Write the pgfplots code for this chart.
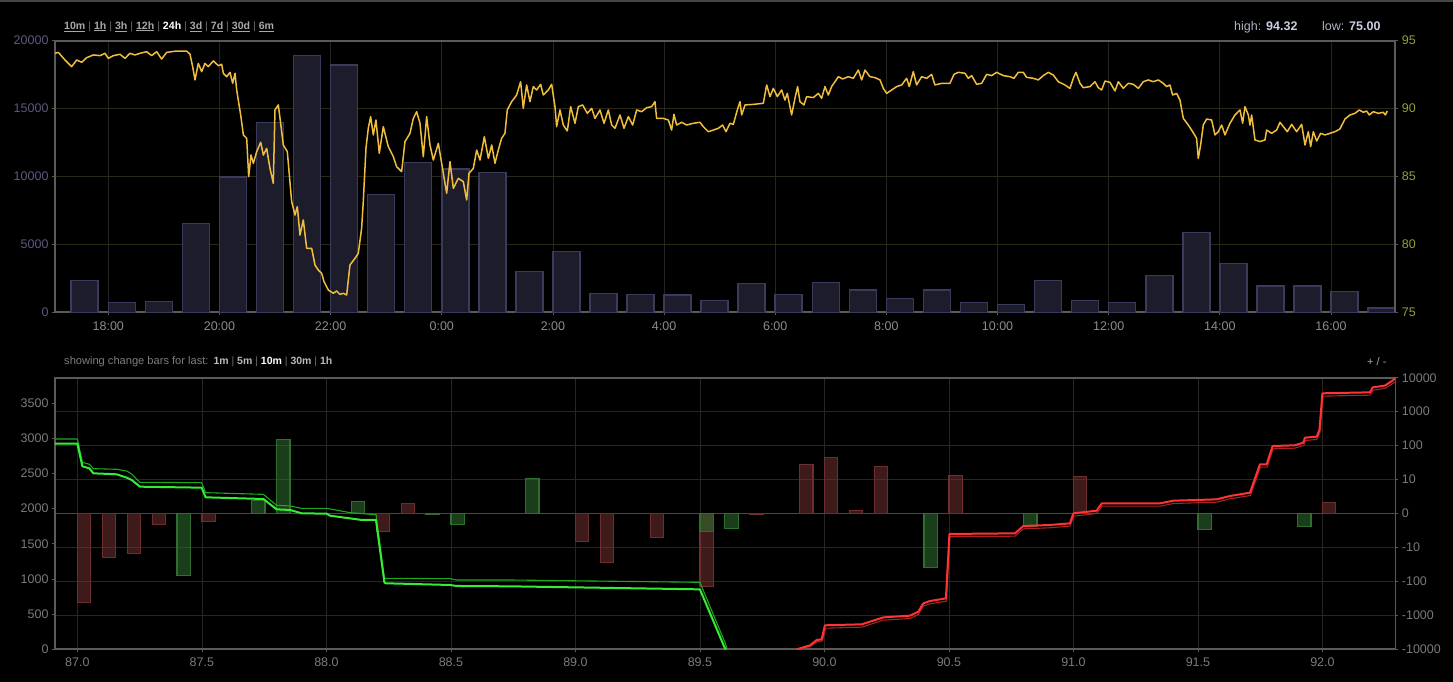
\documentclass[border=0pt]{standalone}
\usepackage{pgfplots}
\pgfplotsset{compat=1.18}
\usepackage{fontspec}
\setmainfont{Liberation Sans}
\definecolor{frame}{HTML}{5A5A5A}
\definecolor{gridv}{HTML}{242424}
\definecolor{gridol}{HTML}{2A2A14}
\definecolor{gridb}{HTML}{262626}
\definecolor{zeroline}{HTML}{484848}
\definecolor{volab}{HTML}{5A5A82}
\definecolor{prlab}{HTML}{9A9A3A}
\definecolor{xlab}{HTML}{8C8C8C}
\definecolor{blab}{HTML}{7A7A7A}
\definecolor{barline}{HTML}{3A3A5C}
\definecolor{barfill}{HTML}{1C1C2A}
\definecolor{pricec}{HTML}{F0BE3C}
\definecolor{redfillc}{HTML}{7C3434}
\definecolor{redbord}{HTML}{6E2E2E}
\definecolor{grnfillc}{HTML}{347C34}
\definecolor{grnbord}{HTML}{2E6E2E}
\definecolor{grnbright}{HTML}{33EE33}
\definecolor{grndark}{HTML}{1FA81F}
\definecolor{redbright}{HTML}{FF3333}
\definecolor{reddark}{HTML}{AA2222}
\definecolor{linkc}{HTML}{A8A8A8}
\definecolor{sepc}{HTML}{707070}
\definecolor{hlab}{HTML}{AAB4C4}
\definecolor{hval}{HTML}{C8D0E0}
\definecolor{topline}{HTML}{444444}
\newcommand{\lnk}[1]{\textcolor{linkc}{\bfseries\underline{#1}}}
\newcommand{\blk}[1]{\textcolor{linkc!80!white}{\bfseries #1}}
\newcommand{\sepb}{\textcolor{sepc}{\ |\ }}
\pgfplotsset{
  darkax/.style={scale only axis, width=1340.3pt, height=271.6pt, anchor=south west,
    axis line style={draw=frame, line width=1.7pt},
    tick style={draw=frame, line width=0.8pt},
    tick align=outside, major tick length=3pt,
    tick label style={font=\fontsize{12.5}{14}\selectfont},
    /pgf/number format/assume math mode=true,
    scaled ticks=false, clip=true,
  }
}
\begin{document}
\begin{tikzpicture}[x=1pt,y=1pt]
\fill[black] (0,0) rectangle (1453,682);
\fill[topline] (0,679.7) rectangle (1453,682);

% ---------- TOP CHART: volume bars (left axis) ----------
\begin{axis}[darkax, at={(55pt,369.7pt)},
  xmin=17.041, xmax=41.157, ymin=0, ymax=20000,
  xtick={18,20,22,24,26,28,30,32,34,36,38,40},
  xticklabels={18:00,20:00,22:00,0:00,2:00,4:00,6:00,8:00,10:00,12:00,14:00,16:00},
  ytick={0,5000,10000,15000,20000}, yticklabels={0,5000,10000,15000,20000},
  ytick pos=left, xtick pos=bottom,
  xticklabel style={text=xlab, yshift=-2.5pt}, yticklabel style={text=volab},
  xmajorgrids, ymajorgrids,
  x grid style={gridv, line width=0.8pt}, y grid style={gridol, line width=0.8pt},
]
\addplot[ybar, bar width=0.486, bar shift=0pt, draw=barline, fill=barfill, line width=1.5pt] coordinates {
(17.576,2356) (18.243,707) (18.910,810) (19.576,6524) (20.243,9963) (20.910,13962)
(21.576,18925) (22.243,18211) (22.910,8689) (23.576,11046) (24.243,10552) (24.910,10309)
(25.576,3019) (26.243,4463) (26.910,1370) (27.576,1296) (28.243,1270) (28.910,854)
(29.576,2106) (30.243,1296) (30.910,2180) (31.576,1642) (32.243,1031) (32.910,1642)
(33.576,707) (34.243,589) (34.910,2327) (35.576,854) (36.243,736) (36.910,2725)
(37.576,5862) (38.243,3608) (38.910,1937) (39.576,1937) (40.243,1546) (40.910,317)
};
\end{axis}

% ---------- TOP CHART: price line (right axis) ----------
\begin{axis}[darkax, at={(55pt,369.7pt)},
  xmin=17.041, xmax=41.157, ymin=75, ymax=95,
  axis x line=none, axis y line*=right,
  ytick={75,80,85,90,95}, yticklabels={75,80,85,90,95},
  yticklabel style={text=prlab},
]
\addplot[pricec, line width=1.5pt, line join=round] coordinates {
(17.041,94.07) (17.101,94.14) (17.221,93.58) (17.341,93.09) (17.431,93.58) (17.521,93.41)
(17.611,93.75) (17.731,93.95) (17.851,93.90) (17.941,94.07) (18.001,93.70) (18.091,93.90)
(18.210,94.00) (18.300,93.70) (18.390,94.07) (18.480,93.95) (18.570,94.07) (18.690,94.19)
(18.780,93.90) (18.870,94.19) (18.960,93.65) (19.050,94.14) (19.230,94.24) (19.410,94.24)
(19.470,94.00) (19.518,93.09) (19.560,92.11) (19.620,93.33) (19.680,92.72) (19.740,93.33)
(19.800,93.09) (19.890,93.51) (19.980,93.16) (20.040,93.26) (20.070,92.60) (20.130,92.35)
(20.190,92.67) (20.238,91.86) (20.280,92.60) (20.310,91.37) (20.382,89.53) (20.430,88.06)
(20.490,87.81) (20.526,84.99) (20.568,86.58) (20.610,85.97) (20.670,86.83) (20.742,87.52)
(20.790,86.58) (20.849,87.07) (20.909,85.60) (20.969,84.50) (20.999,89.90) (21.059,90.27)
(21.101,88.92) (21.149,87.32) (21.221,86.83) (21.299,83.15) (21.359,82.16) (21.401,82.78)
(21.449,80.69) (21.509,81.80) (21.569,79.71) (21.659,79.71) (21.719,78.48) (21.779,78.11)
(21.839,77.87) (21.881,77.26) (21.959,76.64) (22.049,76.40) (22.109,76.57) (22.169,76.32)
(22.229,76.40) (22.289,76.27) (22.348,78.48) (22.438,78.97) (22.498,79.34) (22.558,81.18)
(22.588,83.15) (22.636,87.07) (22.678,88.55) (22.720,89.41) (22.768,88.06) (22.816,89.16)
(22.876,86.71) (22.948,88.67) (23.038,87.20) (23.128,86.46) (23.188,85.72) (23.278,85.36)
(23.338,87.57) (23.428,88.18) (23.488,89.28) (23.548,89.77) (23.608,88.92) (23.668,86.46)
(23.728,89.41) (23.788,87.32) (23.848,86.21) (23.938,87.44) (23.998,85.97) (24.088,83.76)
(24.148,86.09) (24.208,84.13) (24.298,84.86) (24.388,84.62) (24.448,83.27) (24.490,85.23)
(24.568,85.60) (24.628,86.95) (24.688,86.21) (24.766,87.93) (24.838,86.34) (24.898,87.32)
(24.958,85.97) (25.017,86.95) (25.077,87.81) (25.137,88.18) (25.179,89.90) (25.257,90.51)
(25.347,91.00) (25.419,91.98) (25.467,90.02) (25.527,91.74) (25.587,90.51) (25.647,91.62)
(25.707,91.37) (25.779,91.79) (25.827,91.00) (25.917,91.37) (25.977,91.79) (26.037,90.14)
(26.067,88.67) (26.127,89.90) (26.187,88.79) (26.259,88.35) (26.319,90.14) (26.397,88.92)
(26.457,90.14) (26.535,90.27) (26.619,89.65) (26.697,90.02) (26.757,89.28) (26.847,89.90)
(26.919,88.92) (26.997,89.90) (27.057,88.79) (27.117,88.55) (27.207,89.53) (27.279,88.55)
(27.357,89.41) (27.435,88.79) (27.507,89.90) (27.596,89.77) (27.686,90.07) (27.776,90.14)
(27.836,90.51) (27.866,89.28) (27.986,89.28) (28.076,89.16) (28.136,88.42) (28.178,89.58)
(28.226,88.79) (28.316,88.99) (28.406,88.79) (28.526,88.92) (28.646,88.99) (28.706,88.67)
(28.796,88.30) (28.886,88.42) (28.976,88.55) (29.054,88.79) (29.114,88.30) (29.186,88.92)
(29.246,88.84) (29.318,89.90) (29.366,90.51) (29.396,89.53) (29.456,90.27) (29.606,90.31)
(29.786,90.39) (29.846,91.74) (29.906,90.88) (29.966,91.49) (30.038,90.88) (30.115,91.37)
(30.175,90.63) (30.217,91.12) (30.295,89.53) (30.355,90.76) (30.403,91.62) (30.445,90.51)
(30.517,90.27) (30.565,90.88) (30.685,90.81) (30.775,91.12) (30.835,90.76) (30.895,91.62)
(30.955,91.00) (31.015,91.62) (31.075,91.98) (31.135,92.35) (31.215,92.18) (31.315,92.35)
(31.405,92.23) (31.495,92.84) (31.555,92.11) (31.615,92.84) (31.705,92.35) (31.795,92.28)
(31.885,92.11) (31.945,91.49) (32.005,91.12) (32.095,91.37) (32.185,91.62) (32.275,91.74)
(32.364,92.23) (32.412,91.62) (32.484,92.72) (32.544,91.74) (32.634,92.35) (32.724,92.23)
(32.814,92.52) (32.874,91.74) (32.994,91.86) (33.144,91.86) (33.216,92.52) (33.294,92.67)
(33.414,92.60) (33.474,92.23) (33.534,92.43) (33.624,91.79) (33.714,91.86) (33.804,92.52)
(33.894,92.43) (33.984,92.67) (34.104,92.43) (34.224,92.35) (34.296,92.23) (34.373,92.67)
(34.463,92.67) (34.523,92.30) (34.643,92.23) (34.733,92.11) (34.823,92.43) (34.913,92.67)
(35.003,92.47) (35.093,91.98) (35.213,91.74) (35.303,91.49) (35.363,92.23) (35.411,92.67)
(35.483,91.86) (35.543,91.54) (35.663,91.62) (35.753,91.98) (35.813,91.54) (35.873,91.37)
(35.933,92.03) (36.023,91.93) (36.113,91.30) (36.173,91.98) (36.263,91.49) (36.353,91.86)
(36.443,91.79) (36.533,91.49) (36.623,91.98) (36.713,92.11) (36.802,91.98) (36.893,92.11)
(36.982,91.86) (37.042,91.62) (37.102,91.74) (37.150,91.00) (37.222,91.12) (37.282,90.63)
(37.342,89.28) (37.432,88.79) (37.510,88.30) (37.582,87.81) (37.612,86.34) (37.654,87.32)
(37.702,88.79) (37.762,89.23) (37.852,89.16) (37.912,88.06) (37.972,88.30) (38.032,88.79)
(38.092,88.06) (38.182,88.92) (38.272,89.53) (38.362,89.90) (38.410,88.92) (38.452,90.14)
(38.512,89.53) (38.542,88.79) (38.572,89.53) (38.632,87.69) (38.722,87.57) (38.812,87.69)
(38.842,88.42) (38.932,88.18) (39.022,88.42) (39.082,88.99) (39.142,88.67) (39.214,88.30)
(39.292,88.84) (39.382,88.30) (39.472,88.84) (39.532,87.32) (39.592,88.30) (39.634,87.20)
(39.682,88.30) (39.742,87.61) (39.814,88.18) (39.892,88.06) (39.982,88.18) (40.071,88.30)
(40.161,88.50) (40.251,89.23) (40.341,89.53) (40.431,89.65) (40.509,89.90) (40.581,89.73)
(40.641,89.82) (40.689,89.53) (40.761,89.77) (40.851,89.65) (40.941,89.73) (40.977,89.53)
(41.013,89.82)
};
\end{axis}

% ---------- BOTTOM CHART: change bars (right axis, decades) ----------
\begin{axis}[darkax, at={(55pt,32.7pt)},
  xmin=86.910, xmax=92.293, ymin=-4, ymax=4,
  xtick={87,87.5,88,88.5,89,89.5,90,90.5,91,91.5,92},
  xticklabels={87.0,87.5,88.0,88.5,89.0,89.5,90.0,90.5,91.0,91.5,92.0},
  ytick={-4,-3,-2,-1,1,2,3,4},
  yticklabels={-10000,-1000,-100,-10,10,100,1000,10000},
  extra y ticks={0}, extra y tick labels={0},
  extra y tick style={grid style={zeroline, line width=1.6pt}},
  ytick pos=right, xtick pos=bottom,
  xticklabel style={text=blab, yshift=-2pt}, yticklabel style={text=blab},
  xmajorgrids, ymajorgrids, grid style={gridb, line width=0.8pt},
]
\addplot[ybar, bar width=0.0535, bar shift=0pt, draw=redbord, fill=redfillc, fill opacity=0.5, line width=1.2pt] coordinates {
(87.027,-2.61) (87.127,-1.286) (87.227,-1.178) (87.327,-0.334) (87.527,-0.245)
(88.227,-0.54) (88.327,0.304) (89.027,-0.825) (89.127,-1.433) (89.327,-0.707)
(89.527,-2.15) (89.727,-0.03) (89.927,1.453) (90.027,1.66) (90.127,0.098)
(90.227,1.394) (90.527,1.12) (91.027,1.09) (92.027,0.334)
};
\addplot[ybar, bar width=0.0535, bar shift=0pt, draw=grnbord, fill=grnfillc, fill opacity=0.5, line width=1.2pt] coordinates {
(87.427,-1.826) (87.727,0.373) (87.827,2.18) (88.127,0.353) (88.427,-0.02)
(88.527,-0.324) (88.827,1.02) (89.527,-0.53) (89.627,-0.432) (90.427,-1.58)
(90.827,-0.383) (91.527,-0.48) (91.927,-0.383)
};
\end{axis}

% ---------- BOTTOM CHART: cumulative depth lines (left axis) ----------
\begin{axis}[darkax, at={(55pt,32.7pt)},
  xmin=86.910, xmax=92.293, ymin=0, ymax=3860,
  axis x line=none, axis y line*=left,
  ytick={0,500,1000,1500,2000,2500,3000,3500},
  yticklabels={0,500,1000,1500,2000,2500,3000,3500},
  yticklabel style={text=blab},
]
\addplot[grndark, line width=1.1pt, line join=round] coordinates {
(86.910,2989) (87.000,2989) (87.020,2657) (87.048,2629) (87.064,2567) (87.158,2558)
(87.198,2534) (87.218,2491) (87.251,2373) (87.499,2368) (87.515,2226) (87.747,2202)
(87.800,2046) (87.854,2037) (87.901,2003) (88.001,2003) (88.095,1942) (88.199,1913)
(88.233,1009) (88.496,1004) (88.523,985) (88.737,985) (89.500,952) (89.601,94) (89.610,0)
};
\addplot[grnbright, line width=2pt, line join=round] coordinates {
(86.910,2922) (87.000,2922) (87.020,2600) (87.048,2572) (87.064,2501) (87.158,2487)
(87.198,2439) (87.218,2406) (87.251,2311) (87.499,2297) (87.515,2160) (87.747,2136)
(87.800,1989) (87.854,1980) (87.901,1932) (88.001,1928) (88.014,1899) (88.142,1838)
(88.199,1838) (88.233,947) (88.240,938) (88.496,914) (88.523,900) (88.737,895)
(89.500,852) (89.601,9) (89.605,0)
};
\addplot[reddark, line width=1.1pt, line join=round] coordinates {
(89.895,0) (89.945,45) (89.972,110) (89.992,120) (90.005,300) (90.150,315) (90.237,414)
(90.344,438) (90.377,495) (90.397,613) (90.424,646) (90.490,684) (90.504,1599)
(90.765,1608) (90.799,1712) (90.906,1727) (90.986,1750) (91.002,1892) (91.093,1930)
(91.116,2034) (91.348,2034) (91.401,2072) (91.575,2091) (91.629,2139) (91.711,2186)
(91.751,2589) (91.778,2589) (91.802,2849) (91.890,2859) (91.925,2897) (91.932,2968)
(91.977,2982) (91.990,3077) (92.002,3598) (92.191,3612) (92.204,3683) (92.251,3707)
(92.293,3800)
};
\addplot[redbright, line width=2pt, line join=round] coordinates {
(89.889,0) (89.942,56) (89.969,132) (89.989,142) (90.002,341) (90.150,355) (90.237,454)
(90.344,478) (90.377,535) (90.397,653) (90.424,686) (90.488,724) (90.502,1639)
(90.765,1648) (90.799,1752) (90.906,1767) (90.986,1790) (91.000,1932) (91.093,1970)
(91.114,2074) (91.348,2074) (91.401,2112) (91.575,2131) (91.629,2179) (91.709,2226)
(91.749,2629) (91.776,2629) (91.800,2889) (91.890,2899) (91.923,2937) (91.930,3008)
(91.977,3022) (91.988,3117) (92.000,3638) (92.191,3652) (92.202,3723) (92.251,3747)
(92.285,3827) (92.293,3860)
};
\end{axis}

% ---------- header texts ----------
\node[anchor=base west, inner sep=0, font=\fontsize{10.6}{12}\selectfont] at (64,652.7)
  {\lnk{10m}\sepb\lnk{1h}\sepb\lnk{3h}\sepb\lnk{12h}\sepb\textcolor{white}{\bfseries 24h}\sepb\lnk{3d}\sepb\lnk{7d}\sepb\lnk{30d}\sepb\lnk{6m}};
\node[anchor=base west, inner sep=0, font=\fontsize{12.5}{14}\selectfont, text=hlab] at (1234,651.5) {high:};
\node[anchor=base west, inner sep=0, font=\fontsize{12.5}{14}\selectfont\bfseries, text=hval] at (1266,651.5) {94.32};
\node[anchor=base west, inner sep=0, font=\fontsize{12.5}{14}\selectfont, text=hlab] at (1322,651.5) {low:};
\node[anchor=base west, inner sep=0, font=\fontsize{12.5}{14}\selectfont\bfseries, text=hval] at (1349,651.5) {75.00};
\node[anchor=base west, inner sep=0, font=\fontsize{11.1}{13}\selectfont, text=sepc!90!white] at (64,317.3) {showing change bars for last:};
\node[anchor=base west, inner sep=0, font=\fontsize{10.5}{12}\selectfont] at (213.3,317.3)
  {\blk{1m}\sepb\blk{5m}\sepb\textcolor{white}{\bfseries 10m}\sepb\blk{30m}\sepb\blk{1h}};
\node[anchor=base west, inner sep=0, font=\fontsize{11}{13}\selectfont, text=linkc] at (1367,316.5) {+ / -};

\pgfresetboundingbox
\useasboundingbox (0,0) rectangle (1453,682);
\end{tikzpicture}
\end{document}
